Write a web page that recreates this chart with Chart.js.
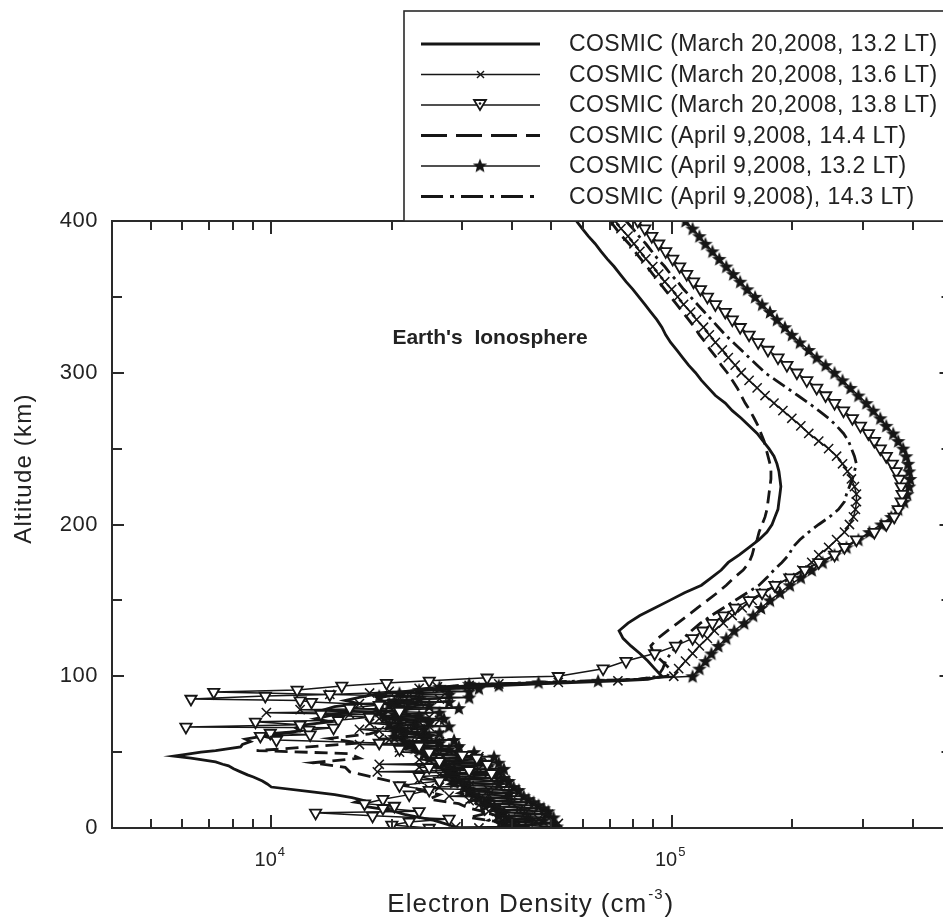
<!DOCTYPE html>
<html>
<head>
<meta charset="utf-8">
<title>COSMIC electron density profiles</title>
<script src="https://cdn.jsdelivr.net/npm/chart.js"></script>
<style>
  html, body { margin: 0; padding: 0; background: #fff; overflow: hidden; }
  #wrap { width: 960px; height: 922px; }
</style>
</head>
<body>
<div id="wrap"><canvas id="chart" width="960" height="922"></canvas></div>
<script>
// Altitude grid (km) for the topside / F-region part of each profile
const ALT_UP = [400, 395, 390, 385, 380, 375, 370, 365, 360, 355, 350, 345, 340, 335, 330, 325, 320, 315, 310, 305,
  300, 295, 290, 285, 280, 275, 270, 265, 260, 255, 250, 245, 240, 235, 230, 225, 220, 215, 210, 205,
  200, 195, 190, 185, 180, 175, 170, 165, 160, 155, 150, 145, 140, 135, 130, 125, 120, 115, 110, 105, 100];

// Electron density (cm^-3) on ALT_UP, one array per occultation
const MAR_132_UP = [57800, 59800, 61900, 64400, 66600, 69000, 71800, 74300, 76900, 80000, 82800, 85700, 88700, 91800, 94500, 96600, 99400, 102900, 106500, 110200,
  114700, 118700, 123500, 128600, 136100, 141700, 149200, 156100, 163500, 169200, 175000, 180100, 183200, 185300, 186400, 187400, 186400, 185300, 184300, 181100,
  178100, 173000, 165300, 156100, 147500, 138500, 133000, 125700, 118700, 107700, 98900, 90700, 83300, 77800, 73900, 75600, 79100, 83300, 87200, 90700, 94500];
const MAR_136_UP = [72200, 74700, 77800, 80500, 83300, 86200, 89700, 92800, 96100, 100000, 103500, 107100, 111500, 115400, 120100, 124200, 128600, 133800, 138500, 144100,
  149200, 156100, 163500, 171100, 180100, 189600, 199600, 210200, 220000, 233000, 246600, 258200, 267200, 274900, 281200, 286100, 289400, 289400, 287700, 284500,
  278000, 270200, 258200, 246600, 233000, 223800, 211400, 197300, 183200, 170100, 158900, 150000, 141700, 134600, 127800, 122800, 117300, 112800, 108300, 104100, 101200];
const MAR_138_UP = [82300, 85700, 89200, 92800, 96600, 100600, 104700, 109000, 113400, 118000, 122800, 128600, 136100, 141700, 148300, 156100, 164400, 174000, 184300, 194000,
  205500, 217500, 230300, 242400, 255200, 268700, 282800, 296100, 310100, 320800, 332000, 343600, 355600, 363800, 370100, 374300, 376400, 374300, 368000, 359600,
  343600, 320800, 289400, 270200, 255200, 233000, 215000, 197300, 181100, 168200, 156100, 144100, 134600, 126400, 119400, 112800, 102300, 90700, 76900, 67400, 52100];
const APR_144_UP = [70200, 72600, 75100, 78200, 80900, 83700, 86700, 89700, 92800, 96100, 99400, 102900, 106500, 110200, 114000, 117300, 121400, 124900, 129300, 133000,
  137700, 141700, 145800, 149200, 152600, 157000, 160700, 164400, 167200, 170100, 172100, 174000, 176000, 177000, 177000, 176000, 175000, 174000, 173000, 171100,
  168200, 165300, 163500, 160700, 158900, 156100, 150900, 143300, 136900, 130000, 122800, 116000, 109600, 103500, 97700, 92300, 88700, 90200, 94500, 98900, 97700];
const APR_132_UP = [108300, 112800, 117300, 121400, 126400, 131500, 136900, 142500, 148300, 154400, 161600, 168200, 176000, 183200, 191800, 199600, 209000, 220000, 230300, 242400,
  255200, 267200, 279600, 292700, 306500, 319000, 332000, 343600, 357600, 368000, 378600, 385200, 389600, 391800, 394000, 391800, 387400, 380800, 368000, 353600,
  333900, 311800, 292700, 273300, 255200, 238300, 223800, 210200, 197300, 186400, 176000, 167200, 159800, 151800, 143300, 136900, 130800, 125700, 121400, 117300, 112800];
const APR_143_UP = [76900, 80000, 82800, 86200, 89200, 92300, 96100, 99400, 103500, 107100, 111500, 116000, 120700, 125700, 130800, 136100, 142500, 149200, 156100, 163500,
  171100, 182200, 194000, 206600, 220000, 233000, 246600, 258200, 268700, 276500, 281200, 286100, 289400, 286100, 282800, 278000, 273300, 270200, 261100, 248000,
  233000, 220000, 209000, 200700, 196200, 188500, 180100, 173000, 165300, 154400, 144100, 134600, 125700, 118000, 112100, 107100, 102900, 99400, 96600, 95000, 92300];

// Below 100 km: [altitude km, density cm^-3] read point by point
const MAR_132_LOW = [[98, 87200], [97, 73400], [95, 46500], [93, 31200], [91, 23400], [89.5, 20900], [88, 18100], [86, 16600], [84, 15300], [82, 16600],
  [80, 14400], [78, 13600], [76, 15300], [74, 14000], [72, 12900], [70, 14000], [68, 12100], [66, 11500], [64, 11800], [62, 10500], [61, 9830], [60, 9290],
  [58.5, 8620], [57, 8870], [55, 8470], [53.4, 8380], [52, 7690], [51, 7260], [50, 6670], [48.5, 6120], [47.4, 5710], [46, 6300], [45, 6670], [43.5, 7260],
  [42, 7560], [41, 7820], [39, 8050], [37, 8380], [35, 8720], [33.6, 9020], [31, 9500], [29, 9770], [27, 10000], [24, 12500], [22, 14400], [20, 15900],
  [18.5, 16800], [17, 16200], [16, 17100], [14, 17300], [13, 18400], [11, 20300], [9, 21500], [7, 23400], [5, 25500], [3, 27000], [1, 28600], [0, 29400]];
const MAR_136_LOW = [[97, 73400], [96, 52100], [95, 37000], [94, 31200], [93, 26000], [92, 23400], [91, 27800], [90, 19700], [89, 17600], [88, 14000],
  [87, 22100], [86, 20900], [85, 26300], [84, 18600], [83, 23400], [82, 16600], [81, 20900], [80, 19700], [79, 24800], [78, 11800], [77, 18600], [76, 9720],
  [75, 15700], [74, 20900], [73, 24800], [72, 18600], [71, 26300], [70, 23400], [69, 17600], [68, 19700], [67, 24800], [66, 22100], [65, 16600], [64, 18600],
  [63, 23400], [62, 20900], [61, 26300], [60, 23400], [59, 18600], [58, 19700], [57, 26300], [56, 22100], [55, 16600], [54, 26300], [53, 20900], [52, 23400],
  [51, 29400], [50, 20900], [49, 26300], [48, 24800], [47, 33000], [46, 29400], [45, 23400], [44, 26300], [43, 34900], [42, 18600], [41, 27800], [40, 23400],
  [39, 33000], [38, 29400], [37, 18400], [36, 34900], [35, 26300], [34, 27800], [33, 37000], [32, 23400], [31, 31200], [30, 29400], [29, 39200], [28, 31200],
  [27, 26300], [26, 24800], [25, 34900], [24, 31200], [23, 41500], [22, 34900], [21, 27800], [20, 39200], [19, 33000], [18, 31200], [17, 43900], [16.5, 39900],
  [15, 33000], [14, 37000], [13, 46500], [12, 41500], [11, 34900], [10, 43200], [9, 49200], [8, 37000], [7, 43900], [6, 46500], [5, 39200], [4, 45900],
  [3, 52100], [2, 37000], [1, 43900], [0.7, 28900], [0, 33000]];
const MAR_138_LOW = [[99, 34600], [97, 24800], [95.5, 19400], [93.6, 15000], [91, 11600], [89.6, 7180], [88, 14000], [87, 9660], [85, 6300], [84, 11800],
  [83, 12600], [81, 18600], [79, 15700], [77, 20900], [75, 13300], [73, 17600], [71, 14700], [70, 9130], [68, 11800], [66.6, 6120], [66, 14300], [64.6, 12400],
  [62.6, 9940], [61.5, 12500], [60.6, 9390], [58, 10300], [56, 18600], [54, 23400], [52, 20900], [50, 24800], [48, 30000], [46, 32600], [44, 26300], [42, 34600],
  [40, 24800], [38, 31200], [36, 35500], [34, 23400], [31, 26300], [28, 20900], [25, 24800], [22, 22100], [19, 19000], [16, 17100], [14.5, 20300], [13, 19000],
  [11, 23400], [10, 12900], [8, 17900], [6, 27800], [4, 22100], [2, 20000], [0, 24800]];
const APR_144_LOW = [[98, 82300], [96, 52100], [94, 34900], [92, 27800], [90, 22100], [88, 20900], [86, 18600], [83, 20300], [80, 22100], [77, 19700],
  [74, 18600], [71, 20300], [68, 20900], [65, 19200], [62, 17600], [59, 14000], [56, 16600], [53, 11800], [51, 9190], [49, 15700], [46, 16600], [43, 12700],
  [40, 15300], [37, 15700], [34, 17600], [31, 19700], [28, 22100], [25, 23400], [22, 26300], [19, 24800], [16, 29400], [13, 31200], [10, 34900], [7, 31200],
  [4, 37000], [1, 39200], [0, 38100]];
const APR_132_LOW = [[97, 65500], [96, 46500], [95, 31200], [94, 37000], [93, 26300], [92, 33000], [91, 23400], [90, 31200], [89, 20900], [88, 27800],
  [87, 18600], [86, 31200], [85, 23400], [84, 20300], [83, 27800], [82, 19700], [81, 24800], [80, 20900], [79, 29400], [78, 21500], [77, 18600], [76, 26300],
  [75, 20300], [74, 23400], [73, 19200], [72, 27000], [71, 20900], [70, 24800], [69, 19700], [68, 22800], [67, 27800], [66, 20900], [65, 24100], [64, 20300],
  [63, 26300], [62, 21500], [61, 24800], [60, 20300], [59, 24100], [58, 28600], [57, 21500], [56, 26300], [55, 22100], [54, 29400], [53, 22800], [52, 27800],
  [51, 23400], [50, 32100], [49, 24100], [48, 29400], [47, 36000], [46, 24800], [45, 33000], [44, 27000], [43, 37000], [42, 26300], [41, 34900], [40, 27800],
  [39, 38100], [38, 28600], [37, 37000], [36, 27800], [35, 36000], [34, 28600], [33, 38100], [32, 29400], [31, 39200], [30, 28600], [29, 37000], [28, 30300],
  [27, 40300], [26, 31200], [25, 41500], [24, 31200], [23, 39200], [22, 32100], [21, 42700], [20, 33000], [19, 43900], [18, 34900], [17, 45200], [16, 34000],
  [15, 46500], [14, 36000], [13, 47900], [12, 37000], [11, 49200], [10, 38100], [9, 48700], [8, 37000], [7, 50700], [6, 39200], [5, 47900], [4, 38100],
  [3, 50700], [2, 40300], [1, 51600], [0, 41500]];
const APR_143_LOW = [[98, 82300], [96, 46500], [94, 29400], [92, 24800], [89, 20900], [86, 22100], [83, 23400], [80, 20900], [77, 21500], [74, 19700],
  [71, 22100], [68, 20300], [65, 21500], [62, 22800], [59, 20900], [56, 23400], [53, 22100], [50, 24800], [47, 23400], [44, 26300], [41, 24800], [38, 27800],
  [35, 26300], [32, 29400], [29, 27800], [26, 31200], [23, 29400], [20, 33000], [17, 31200], [14, 34900], [11, 33000], [8, 37000], [5, 34900], [2, 39200], [0, 37000]];

const LEGEND_LABELS = [
  'COSMIC (March 20,2008, 13.2 LT)',
  'COSMIC (March 20,2008, 13.6 LT)',
  'COSMIC (March 20,2008, 13.8 LT)',
  'COSMIC (April 9,2008, 14.4 LT)',
  'COSMIC (April 9,2008, 13.2 LT)',
  'COSMIC (April 9,2008), 14.3 LT)'
];

// Axis ticks
const X_MIN = 4000, X_MAX = 500000;
const X_MAJOR = [1e4, 1e5];
const X_MAJOR_EXP = ['4', '5'];
const X_MINOR = [5000, 6000, 7000, 8000, 9000, 20000, 30000, 40000, 50000, 60000, 70000, 80000, 90000, 200000, 300000, 400000];
const Y_MAJOR = [0, 100, 200, 300, 400];
const Y_MINOR = [50, 150, 250, 350];

const INK = '#161616';
const FONT = '"Liberation Sans", Arial, Helvetica, sans-serif';

function profile(upper, lower) {
  const pts = ALT_UP.map((alt, i) => ({ x: upper[i], y: alt }));
  lower.forEach(p => pts.push({ x: p[1], y: p[0] }));
  return pts;
}

// Filled five-pointed star marker
function makeStar() {
  const c = document.createElement('canvas');
  c.width = 16; c.height = 16;
  const g = c.getContext('2d');
  g.beginPath();
  for (let k = 0; k < 10; k++) {
    const r = k % 2 ? 3.3 : 7.6;
    const ang = -Math.PI / 2 + k * Math.PI / 5;
    const px = 8 + r * Math.cos(ang), py = 8.6 + r * Math.sin(ang);
    if (k) g.lineTo(px, py); else g.moveTo(px, py);
  }
  g.closePath();
  g.fillStyle = INK;
  g.fill();
  return c;
}

const starImg = makeStar();

const datasets = [
  { data: profile(MAR_138_UP, MAR_138_LOW), borderColor: INK, borderWidth: 1.5,
    pointStyle: 'triangle', rotation: 180, pointRadius: 6.5, pointBorderWidth: 1.8,
    pointBorderColor: INK, pointBackgroundColor: '#fff', order: 0, marker: 'tri' },
  { data: profile(MAR_132_UP, MAR_132_LOW), borderColor: INK, borderWidth: 2.8,
    pointRadius: 0, order: 1, marker: null },
  { data: profile(MAR_136_UP, MAR_136_LOW), borderColor: INK, borderWidth: 1.5,
    pointStyle: 'crossRot', pointRadius: 6.5, pointBorderWidth: 1.5, pointBorderColor: INK, order: 2, marker: 'cross' },
  { data: profile(APR_144_UP, APR_144_LOW), borderColor: INK, borderWidth: 2.8, borderDash: [13, 7],
    pointRadius: 0, order: 3, marker: null },
  { data: profile(APR_132_UP, APR_132_LOW), borderColor: INK, borderWidth: 1.5,
    pointStyle: starImg, pointRadius: 7, order: 4, marker: 'star' },
  { data: profile(APR_143_UP, APR_143_LOW), borderColor: INK, borderWidth: 2.8, borderDash: [14, 5, 3, 5],
    pointRadius: 0, order: 5, marker: null }
];

// legend rows follow this order of datasets
const LEGEND_ORDER = [1, 2, 0, 3, 4, 5];
const LEGEND_DASH = [[], [], [], [26, 9], [], [22, 7, 4, 7]];

function line(ctx, x1, y1, x2, y2) {
  ctx.beginPath(); ctx.moveTo(x1, y1); ctx.lineTo(x2, y2); ctx.stroke();
}

const framePlugin = {
  id: 'frame',
  afterDraw(chart) {
    const { ctx, chartArea: a, scales: { x, y } } = chart;
    ctx.save();
    ctx.strokeStyle = '#2a2a2a';
    ctx.fillStyle = '#222';
    ctx.lineWidth = 2;
    ctx.strokeRect(a.left, a.top, a.right - a.left, a.bottom - a.top);

    // inward ticks on all four sides
    X_MINOR.forEach(v => {
      const px = Math.round(x.getPixelForValue(v));
      line(ctx, px, a.bottom, px, a.bottom - 9);
      line(ctx, px, a.top, px, a.top + 9);
    });
    X_MAJOR.forEach(v => {
      const px = Math.round(x.getPixelForValue(v));
      line(ctx, px, a.bottom, px, a.bottom - 13);
      line(ctx, px, a.top, px, a.top + 13);
    });
    Y_MINOR.forEach(v => {
      const py = Math.round(y.getPixelForValue(v));
      line(ctx, a.left, py, a.left + 10, py);
      line(ctx, a.right, py, a.right - 10, py);
    });
    Y_MAJOR.forEach(v => {
      const py = Math.round(y.getPixelForValue(v));
      line(ctx, a.left, py, a.left + 12, py);
      line(ctx, a.right, py, a.right - 12, py);
    });

    // y tick labels
    ctx.font = '22px ' + FONT;
    ctx.letterSpacing = '0.5px';
    ctx.textAlign = 'right';
    ctx.textBaseline = 'middle';
    Y_MAJOR.forEach(v => ctx.fillText(String(v), a.left - 14, y.getPixelForValue(v)));
    ctx.letterSpacing = '0px';

    // x tick labels 10^n
    ctx.textBaseline = 'alphabetic';
    ctx.textAlign = 'left';
    X_MAJOR.forEach((v, i) => {
      const px = x.getPixelForValue(v);
      ctx.font = '20px ' + FONT;
      const wBase = ctx.measureText('10').width;
      ctx.font = '13px ' + FONT;
      const wExp = ctx.measureText(X_MAJOR_EXP[i]).width;
      const x0 = px - (wBase + wExp) / 2 - 2;
      ctx.font = '20px ' + FONT;
      ctx.fillText('10', x0, a.bottom + 38);
      ctx.font = '13px ' + FONT;
      ctx.fillText(X_MAJOR_EXP[i], x0 + wBase + 1, a.bottom + 28);
    });

    // x axis title with superscript
    const t1 = 'Electron Density (cm', t2 = '-3', t3 = ')';
    ctx.letterSpacing = '1px';
    ctx.font = '26px ' + FONT;
    const w1 = ctx.measureText(t1).width, w3 = ctx.measureText(t3).width;
    ctx.font = '15px ' + FONT;
    const w2 = ctx.measureText(t2).width;
    const tx = (a.left + a.right) / 2 - (w1 + w2 + w3) / 2 - 2;
    const ty = a.bottom + 84;
    ctx.font = '26px ' + FONT;
    ctx.fillText(t1, tx, ty);
    ctx.font = '15px ' + FONT;
    ctx.fillText(t2, tx + w1 + 1, ty - 13);
    ctx.font = '26px ' + FONT;
    ctx.fillText(t3, tx + w1 + w2 + 2, ty);

    // y axis title
    ctx.save();
    ctx.translate(24, (a.top + a.bottom) / 2 - 56);
    ctx.rotate(-Math.PI / 2);
    ctx.textAlign = 'center';
    ctx.textBaseline = 'middle';
    ctx.letterSpacing = '1.2px';
    ctx.font = '24px ' + FONT;
    ctx.fillText('Altitude (km)', 0, 0);
    ctx.restore();
    ctx.letterSpacing = '0px';

    // annotation
    ctx.font = 'bold 21px ' + FONT;
    ctx.textAlign = 'center';
    ctx.textBaseline = 'middle';
    ctx.fillText("Earth's  Ionosphere", 490, 338);

    // legend box
    const bx = 404, by = 11, bw = 600, bh = a.top - 11;
    ctx.fillStyle = '#fff';
    ctx.fillRect(bx, by, bw, bh);
    ctx.lineWidth = 1.6;
    ctx.strokeRect(bx, by, bw, bh);
    LEGEND_ORDER.forEach((di, row) => {
      const ds = datasets[di];
      const ly = 44 + row * 30.5;
      ctx.strokeStyle = INK;
      ctx.lineWidth = ds.marker ? 1.3 : ds.borderWidth;
      ctx.setLineDash(LEGEND_DASH[row]);
      line(ctx, 421, ly, 540, ly);
      ctx.setLineDash([]);
      if (ds.marker === 'cross') {
        ctx.lineWidth = 1.4;
        line(ctx, 477, ly - 3.5, 484, ly + 3.5);
        line(ctx, 477, ly + 3.5, 484, ly - 3.5);
      } else if (ds.marker === 'tri') {
        ctx.beginPath();
        ctx.moveTo(474, ly - 5); ctx.lineTo(486, ly - 5); ctx.lineTo(480, ly + 5); ctx.closePath();
        ctx.fillStyle = '#fff'; ctx.fill();
        ctx.lineWidth = 1.8; ctx.stroke();
        ctx.beginPath(); ctx.arc(480, ly - 1.5, 1.3, 0, Math.PI * 2);
        ctx.fillStyle = INK; ctx.fill();
      } else if (ds.marker === 'star') {
        ctx.drawImage(starImg, 480 - 8, ly - 8.5);
      }
      ctx.fillStyle = '#222';
      ctx.font = '23px ' + FONT;
      ctx.letterSpacing = '0.4px';
      ctx.textAlign = 'left';
      ctx.textBaseline = 'middle';
      ctx.fillText(LEGEND_LABELS[row], 569, ly + 1);
      ctx.letterSpacing = '0px';
    });
    ctx.restore();
  }
};

new Chart(document.getElementById('chart'), {
  type: 'scatter',
  data: { datasets: datasets.map(d => Object.assign({ showLine: true, fill: false }, d)) },
  options: {
    responsive: false,
    animation: false,
    events: [],
    layout: { padding: { left: 112, top: 221, right: 4, bottom: 94 } },
    scales: {
      x: { type: 'logarithmic', min: X_MIN, max: X_MAX, display: false },
      y: { type: 'linear', min: 0, max: 400, display: false }
    },
    plugins: {
      legend: { display: false },
      tooltip: { enabled: false }
    }
  },
  plugins: [framePlugin]
});
</script>
</body>
</html>
